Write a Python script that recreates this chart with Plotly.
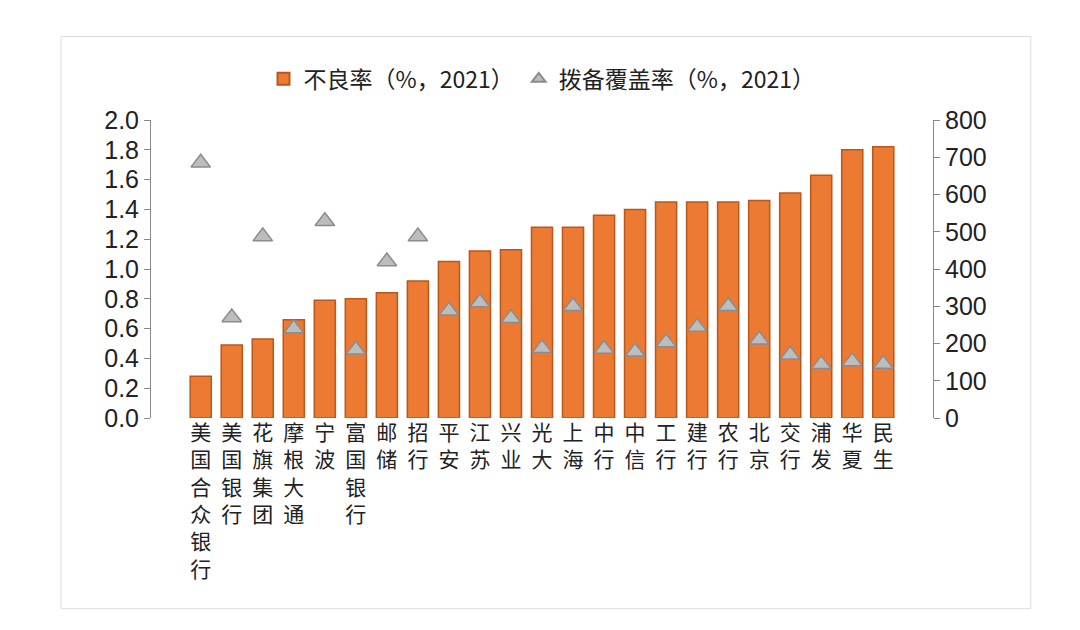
import plotly.graph_objects as go

banks = ["美国合众银行", "美国银行", "花旗集团", "摩根大通", "宁波", "富国银行", "邮储", "招行",
         "平安", "江苏", "兴业", "光大", "上海", "中行", "中信", "工行", "建行", "农行",
         "北京", "交行", "浦发", "华夏", "民生"]
npl = [0.28, 0.49, 0.53, 0.66, 0.79, 0.80, 0.84, 0.92, 1.05, 1.12, 1.13, 1.28, 1.28,
       1.36, 1.40, 1.45, 1.45, 1.45, 1.46, 1.51, 1.63, 1.80, 1.82]
coverage = [685, 270, 487, 240, 528, 183, 420, 487, 288, 310, 268, 187, 300, 185, 178,
            203, 244, 300, 210, 170, 144, 152, 145]

# vertical stacked labels
ticks = ["<br>".join(list(b)) for b in banks]

fig = go.Figure()
fig.add_trace(go.Bar(x=banks, y=npl, name="不良率（%，2021）",
                     marker=dict(color="#EC7A32", line=dict(color="#B8581C", width=1.5)),
                     width=0.68))
fig.add_trace(go.Scatter(x=banks, y=coverage, name="拨备覆盖率（%，2021）", yaxis="y2",
                         mode="markers",
                         marker=dict(symbol="triangle-up", size=17, color="#BDBDBD",
                                     line=dict(color="#8C8C8C", width=1.5))))

font = "Noto Sans CJK SC, Arial, sans-serif"
fig.update_layout(
    width=1080, height=630,
    paper_bgcolor="white", plot_bgcolor="white",
    margin=dict(l=143, r=155, t=112, b=220, autoexpand=False),
    font=dict(family=font, color="#222"),
    showlegend=True,
    legend=dict(orientation="h", x=0.5, xanchor="center", y=1.21, yanchor="top",
                font=dict(size=23), itemsizing="constant"),
    xaxis=dict(tickmode="array", tickvals=banks, ticktext=ticks, tickangle=0,
               tickfont=dict(size=21), showline=False, ticks="", automargin=False),
    yaxis=dict(range=[0, 2.0], dtick=0.2, tickformat=".1f", tickfont=dict(size=25, family="Liberation Sans"),
               showgrid=False, showline=True, linecolor="#888", ticks="outside",
               tickcolor="#888", ticklen=6, zeroline=False, automargin=False),
    yaxis2=dict(range=[0, 800], dtick=100, overlaying="y", side="right",
                tickfont=dict(size=25, family="Liberation Sans"), showgrid=False, showline=True,
                linecolor="#888", ticks="outside", tickcolor="#888", ticklen=6, automargin=False),
    shapes=[
        dict(type="rect", xref="paper", yref="paper", x0=-0.115, x1=1.125, y0=-0.64, y1=1.28,
             line=dict(color="#DDDDDD", width=1)),
    ],
)
fig.write_html("out.html")
